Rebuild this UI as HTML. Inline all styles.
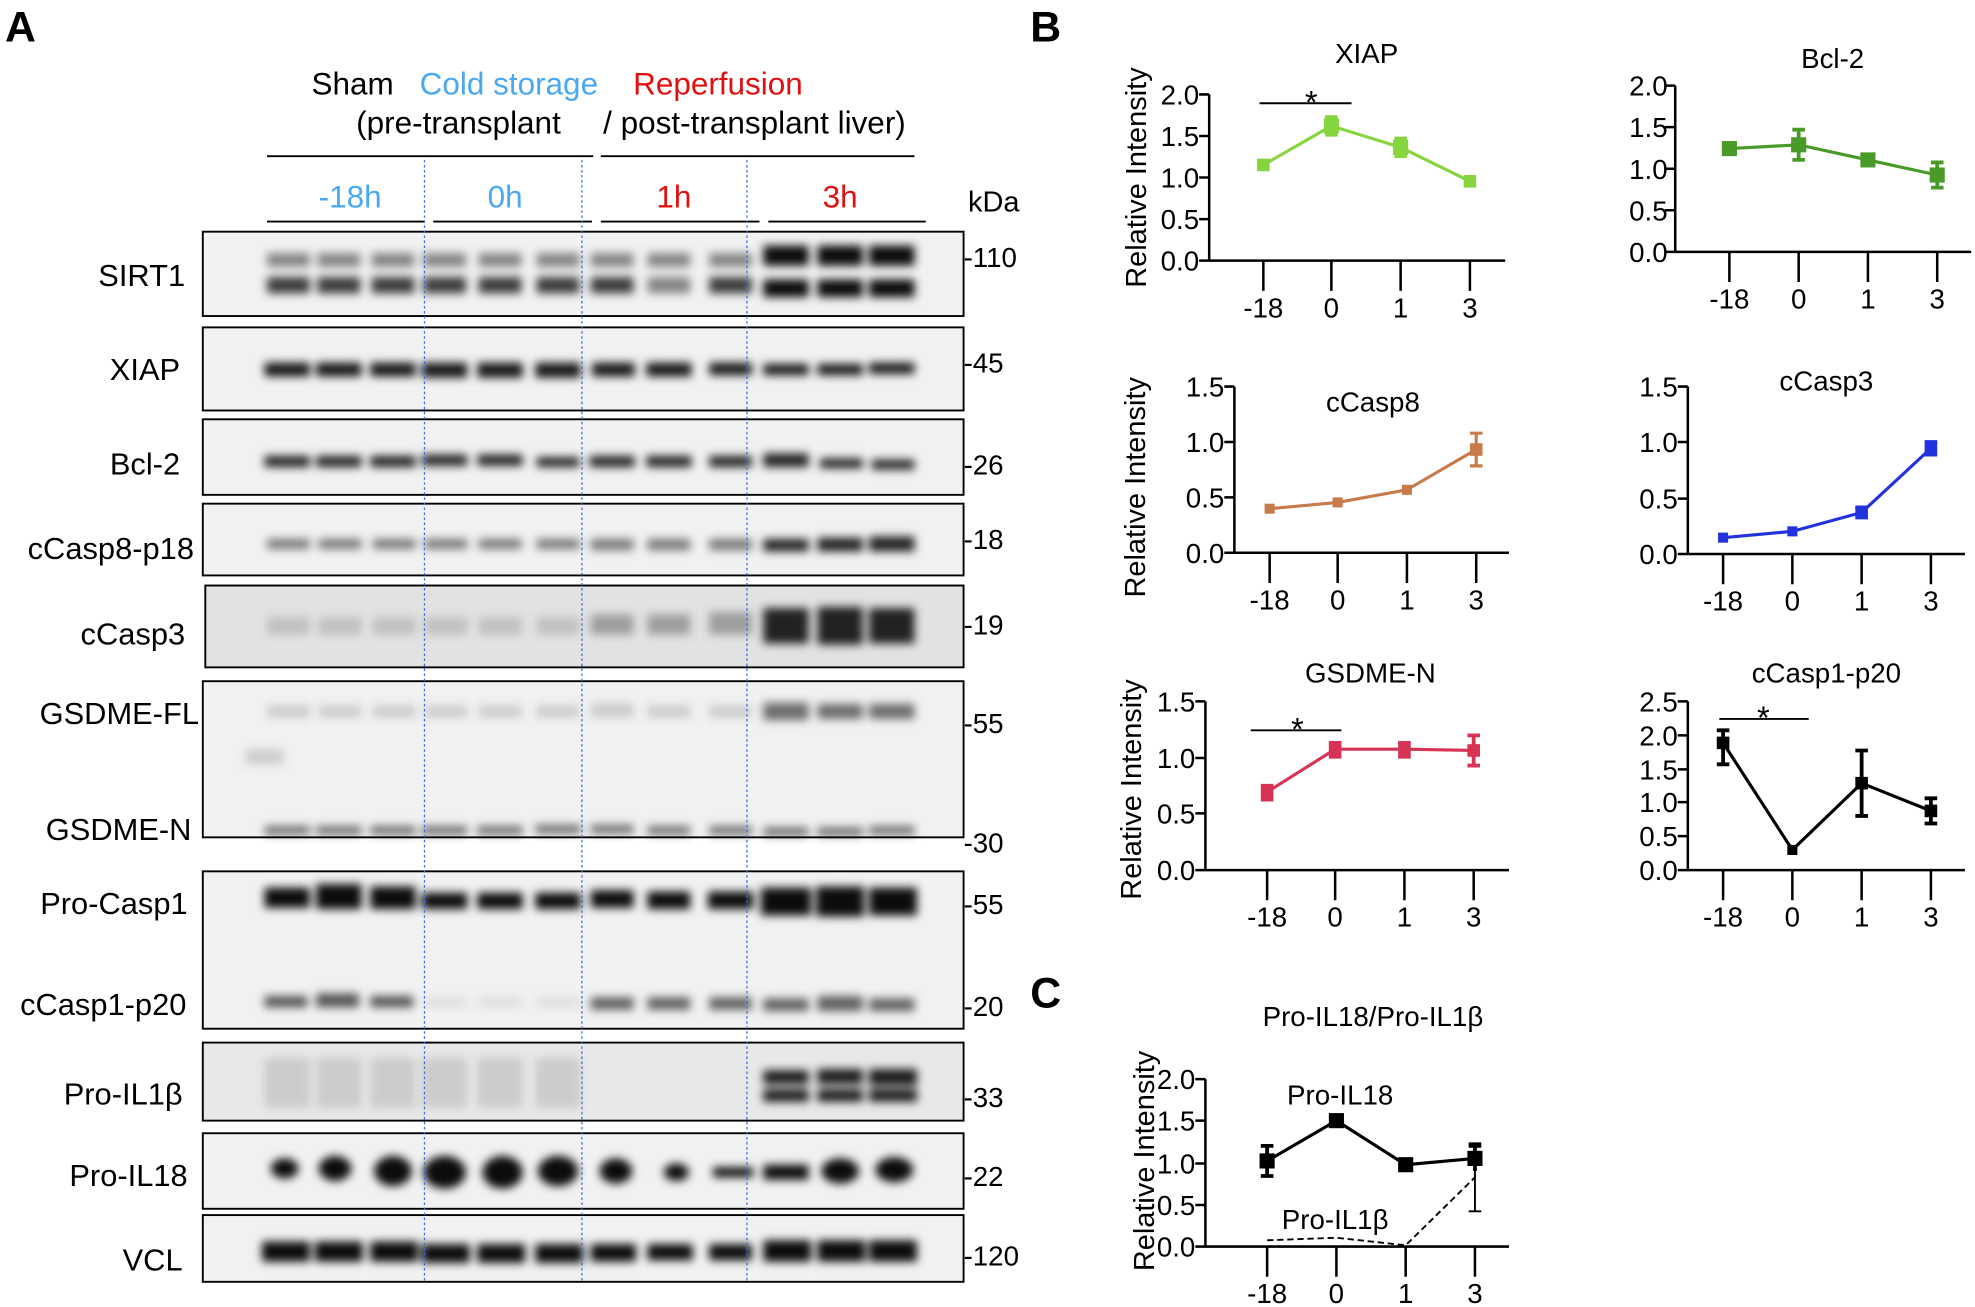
<!DOCTYPE html>
<html><head><meta charset="utf-8"><style>
html,body{margin:0;padding:0;background:#fff;}
svg{display:block;}
text{font-family:"Liberation Sans",Arial,sans-serif;}
</style></head><body>
<svg width="1975" height="1307" viewBox="0 0 1568 1038" preserveAspectRatio="none" xmlns="http://www.w3.org/2000/svg">
<defs>
<filter id="b" x="-50%" y="-100%" width="200%" height="300%"><feGaussianBlur stdDeviation="3.5"/></filter>
</defs>
<text x="4" y="33" font-size="34" font-weight="bold">A</text>
<text x="818" y="33" font-size="34" font-weight="bold">B</text>
<text x="818" y="800" font-size="34" font-weight="bold">C</text>

<g font-size="25" text-anchor="middle">
<text x="280" y="75">Sham</text>
<text x="404" y="75" fill="#4aa8f0">Cold storage</text>
<text x="570" y="75" fill="#e01010">Reperfusion</text>
<text x="364" y="106">(pre-transplant</text>
<text x="599" y="106">/ post-transplant liver)</text>
<text x="278" y="165" fill="#4aa8f0">-18h</text>
<text x="401" y="165" fill="#4aa8f0">0h</text>
<text x="535" y="165" fill="#e01010">1h</text>
<text x="667" y="165" fill="#e01010">3h</text>
<text x="789" y="168" font-size="23">kDa</text>
</g>
<g stroke="#000" stroke-width="1.5">
<line x1="212" y1="124" x2="471" y2="124"/><line x1="477" y1="124" x2="726" y2="124"/>
<line x1="212" y1="176" x2="337" y2="176"/><line x1="344" y1="176" x2="470" y2="176"/>
<line x1="477" y1="176" x2="603" y2="176"/><line x1="610" y1="176" x2="735" y2="176"/>
</g>

<g fill="#f1f1f1" stroke="#000" stroke-width="1.5">
<rect x="161" y="184" width="604" height="67"/>
<rect x="161" y="260" width="604" height="66"/>
<rect x="161" y="333" width="604" height="60"/>
<rect x="161" y="400" width="604" height="57"/>
<rect x="163" y="465" width="602" height="65" fill="#e2e2e2"/>
<rect x="161" y="541" width="604" height="124"/>
<rect x="161" y="692" width="604" height="125"/>
<rect x="161" y="828" width="604" height="62" fill="#e8e8e8"/>
<rect x="161" y="900" width="604" height="60"/>
<rect x="161" y="965" width="604" height="53"/>
</g>

<g fill="#000" filter="url(#b)">
<g opacity="0.45"><rect x="212" y="201" width="34" height="11"/><rect x="252" y="201" width="34" height="11"/><rect x="295" y="201" width="34" height="11"/><rect x="336" y="201" width="34" height="11"/><rect x="380" y="201" width="34" height="11"/><rect x="426" y="201" width="34" height="11"/><rect x="469" y="201" width="34" height="11"/><rect x="514" y="201" width="34" height="11"/><rect x="563" y="201" width="34" height="11"/></g>
<g opacity="0.75"><rect x="212" y="220" width="34" height="13"/><rect x="252" y="220" width="34" height="13"/><rect x="295" y="220" width="34" height="13"/><rect x="336" y="220" width="34" height="13"/><rect x="380" y="220" width="34" height="13"/><rect x="426" y="220" width="34" height="13"/><rect x="469" y="220" width="34" height="13"/><rect x="514" y="220" width="34" height="13" opacity="0.6"/><rect x="563" y="220" width="34" height="13"/></g>
<g opacity="0.95"><rect x="606" y="195" width="36" height="16"/><rect x="649" y="195" width="36" height="16"/><rect x="690" y="195" width="36" height="16"/><rect x="606" y="222" width="36" height="14"/><rect x="649" y="222" width="36" height="14"/><rect x="690" y="222" width="36" height="14"/></g>
<g opacity="0.9"><rect x="210" y="288" width="36" height="11"/><rect x="251" y="288" width="36" height="11"/><rect x="294" y="288" width="36" height="11"/><rect x="335" y="288" width="36" height="12"/><rect x="379" y="288" width="36" height="12"/><rect x="425" y="288" width="36" height="12"/><rect x="470" y="288" width="34" height="11"/><rect x="513" y="288" width="36" height="11"/><rect x="563" y="288" width="34" height="10"/><rect x="606" y="289" width="36" height="9"/><rect x="649" y="289" width="36" height="9"/><rect x="690" y="288" width="36" height="9"/></g>
<g opacity="0.85"><rect x="210" y="362" width="36" height="9"/><rect x="251" y="362" width="36" height="9"/><rect x="294" y="362" width="36" height="9"/><rect x="335" y="361" width="36" height="9"/><rect x="379" y="361" width="36" height="9"/><rect x="426" y="363" width="34" height="8"/><rect x="468" y="362" width="36" height="9"/><rect x="513" y="362" width="36" height="9"/><rect x="563" y="362" width="34" height="9"/><rect x="606" y="360" width="36" height="11"/><rect x="651" y="364" width="34" height="8"/><rect x="692" y="365" width="34" height="8"/></g>
<g opacity="0.5"><rect x="212" y="428" width="34" height="8"/><rect x="253" y="428" width="34" height="8"/><rect x="296" y="428" width="34" height="8"/><rect x="337" y="428" width="34" height="8"/><rect x="380" y="428" width="34" height="8"/><rect x="426" y="428" width="34" height="8"/><rect x="469" y="428" width="34" height="9"/><rect x="514" y="428" width="34" height="9"/><rect x="563" y="428" width="34" height="9"/></g>
<g opacity="0.85"><rect x="606" y="428" width="36" height="10"/><rect x="649" y="427" width="36" height="11"/><rect x="690" y="426" width="36" height="12"/></g>
<g opacity="0.15"><rect x="212" y="490" width="34" height="14"/><rect x="253" y="490" width="34" height="14"/><rect x="296" y="490" width="34" height="14"/><rect x="337" y="490" width="34" height="14"/><rect x="380" y="490" width="34" height="14"/><rect x="426" y="490" width="34" height="14"/></g>
<g opacity="0.3"><rect x="469" y="488" width="34" height="16"/><rect x="514" y="488" width="34" height="16"/><rect x="563" y="486" width="34" height="18"/></g>
<g opacity="0.85"><rect x="606" y="483" width="36" height="28"/><rect x="649" y="482" width="36" height="30"/><rect x="690" y="483" width="36" height="28"/></g>
<g opacity="0.15"><rect x="212" y="560" width="34" height="10"/><rect x="253" y="560" width="34" height="10"/><rect x="296" y="560" width="34" height="10"/><rect x="337" y="560" width="34" height="10"/><rect x="380" y="560" width="34" height="10"/><rect x="426" y="560" width="34" height="10"/><rect x="469" y="558" width="34" height="12"/><rect x="514" y="560" width="34" height="10"/><rect x="563" y="560" width="34" height="10"/><rect x="195" y="595" width="30" height="12"/></g>
<g opacity="0.55"><rect x="606" y="558" width="36" height="14"/><rect x="649" y="559" width="36" height="12"/><rect x="690" y="559" width="36" height="12"/></g>
<g opacity="0.55"><rect x="210" y="656" width="36" height="7"/><rect x="251" y="656" width="36" height="7"/><rect x="294" y="656" width="36" height="7"/><rect x="335" y="656" width="36" height="7"/><rect x="379" y="656" width="36" height="7"/><rect x="425" y="655" width="36" height="7"/><rect x="469" y="655" width="34" height="7"/><rect x="514" y="656" width="34" height="7"/><rect x="563" y="656" width="34" height="7"/><rect x="606" y="657" width="36" height="7"/><rect x="649" y="657" width="36" height="7"/><rect x="690" y="656" width="36" height="7"/></g>
<g opacity="0.95"><rect x="210" y="705" width="36" height="16"/><rect x="251" y="702" width="36" height="20"/><rect x="294" y="704" width="36" height="18"/><rect x="335" y="709" width="36" height="13"/><rect x="379" y="709" width="36" height="13"/><rect x="425" y="709" width="36" height="13"/><rect x="469" y="707" width="34" height="14"/><rect x="514" y="708" width="34" height="14"/><rect x="562" y="708" width="36" height="14"/><rect x="604" y="705" width="40" height="22"/><rect x="648" y="704" width="38" height="24"/><rect x="690" y="705" width="38" height="22"/></g>
<g opacity="0.65"><rect x="210" y="791" width="34" height="9"/><rect x="251" y="789" width="34" height="11"/><rect x="294" y="791" width="34" height="9"/></g>
<g opacity="0.08"><rect x="337" y="792" width="34" height="8"/><rect x="380" y="792" width="34" height="8"/><rect x="426" y="792" width="34" height="8"/></g>
<g opacity="0.6"><rect x="469" y="792" width="34" height="10"/><rect x="514" y="792" width="34" height="10"/><rect x="563" y="792" width="34" height="10"/><rect x="606" y="793" width="36" height="10"/><rect x="649" y="791" width="36" height="12"/><rect x="690" y="793" width="36" height="10"/></g>
<g opacity="0.12"><rect x="210" y="840" width="36" height="40"/><rect x="251" y="840" width="36" height="40"/><rect x="294" y="840" width="36" height="40"/><rect x="335" y="840" width="36" height="40"/><rect x="379" y="840" width="36" height="40"/><rect x="425" y="840" width="36" height="40"/></g>
<g opacity="0.88"><rect x="606" y="850" width="36" height="11"/><rect x="649" y="849" width="36" height="12"/><rect x="690" y="849" width="38" height="13"/><rect x="606" y="865" width="36" height="10"/><rect x="649" y="865" width="36" height="10"/><rect x="690" y="865" width="38" height="10"/></g>
<g opacity="0.95"><ellipse cx="226" cy="928" rx="11" ry="8"/><ellipse cx="266" cy="928" rx="13" ry="10"/><ellipse cx="312" cy="930" rx="15" ry="12"/><ellipse cx="353" cy="931" rx="17" ry="13"/><ellipse cx="399" cy="931" rx="16" ry="13"/><ellipse cx="443" cy="930" rx="16" ry="12"/><ellipse cx="489" cy="930" rx="13" ry="10"/><ellipse cx="537" cy="931" rx="10" ry="7"/><rect x="566" y="927" width="32" height="8"/><rect x="606" y="925" width="36" height="12"/><ellipse cx="667" cy="930" rx="15" ry="10"/><ellipse cx="710" cy="929" rx="15" ry="10"/></g>
<g opacity="0.95"><rect x="208" y="986" width="38" height="16"/><rect x="250" y="986" width="38" height="16"/><rect x="294" y="986" width="38" height="16"/><rect x="335" y="988" width="38" height="15"/><rect x="379" y="988" width="38" height="15"/><rect x="425" y="988" width="38" height="15"/><rect x="469" y="988" width="36" height="14"/><rect x="514" y="988" width="36" height="13"/><rect x="563" y="988" width="34" height="13"/><rect x="606" y="985" width="38" height="17"/><rect x="649" y="985" width="38" height="17"/><rect x="690" y="985" width="38" height="17"/></g>
</g>

<g stroke="#3a6fd8" stroke-width="1" stroke-dasharray="2,2">
<line x1="337" y1="127" x2="337" y2="1018"/><line x1="462" y1="127" x2="462" y2="1018"/><line x1="593" y1="127" x2="593" y2="1018"/>
</g>

<g font-size="24.5" text-anchor="end">
<text x="147" y="227">SIRT1</text>
<text x="143" y="302">XIAP</text>
<text x="143" y="377">Bcl-2</text>
<text x="154" y="444">cCasp8-p18</text>
<text x="147" y="512">cCasp3</text>
<text x="158" y="575">GSDME-FL</text>
<text x="152" y="667">GSDME-N</text>
<text x="149" y="726">Pro-Casp1</text>
<text x="148" y="806">cCasp1-p20</text>
<text x="145" y="877">Pro-IL1β</text>
<text x="149" y="942">Pro-IL18</text>
<text x="145" y="1009">VCL</text>
</g>
<g font-size="22">
<text x="765" y="212">-110</text>
<text x="765" y="296">-45</text>
<text x="765" y="377">-26</text>
<text x="765" y="436">-18</text>
<text x="765" y="504">-19</text>
<text x="765" y="582">-55</text>
<text x="765" y="677">-30</text>
<text x="765" y="726">-55</text>
<text x="765" y="807">-20</text>
<text x="765" y="879">-33</text>
<text x="765" y="942">-22</text>
<text x="765" y="1005">-120</text>
</g>

<g font-size="22">
<g>
<text x="1085" y="50" text-anchor="middle">XIAP</text>
<text transform="translate(910,141) rotate(-90)" text-anchor="middle" font-size="23">Relative Intensity</text>
<g stroke="#000" stroke-width="2" fill="none"><path d="M960 75V207H1195M952 75H960M952 108H960M952 141H960M952 174H960M952 207H960M1003 207V231M1057 207V231M1112 207V231M1167 207V231"/><line x1="1000" y1="82" x2="1073" y2="82" stroke-width="1.5"/></g>
<g text-anchor="end"><text x="952" y="83">2.0</text><text x="952" y="116">1.5</text><text x="952" y="149">1.0</text><text x="952" y="182">0.5</text><text x="952" y="215">0.0</text></g>
<g text-anchor="middle"><text x="1003" y="252">-18</text><text x="1057" y="252">0</text><text x="1112" y="252">1</text><text x="1167" y="252">3</text></g>
<text x="1041" y="90" text-anchor="middle" font-size="26">*</text>
<g stroke="#86d43e" stroke-width="2.5" fill="#86d43e"><polyline points="1003,131 1057,100 1112,117 1167,144" fill="none"/><path d="M1052 93H1062M1057 93V107M1052 107H1062M1107 110H1117M1112 110V124M1107 124H1117" fill="none" stroke-width="3"/><rect x="998" y="126" width="10" height="10" stroke="none"/><rect x="1051" y="94" width="12" height="12" stroke="none"/><rect x="1106" y="111" width="12" height="12" stroke="none"/><rect x="1162" y="139" width="10" height="10" stroke="none"/></g>
</g>
<g>
<text x="1455" y="54" text-anchor="middle">Bcl-2</text>
<g stroke="#000" stroke-width="2" fill="none"><path d="M1330 68V200H1565M1322 68H1330M1322 101H1330M1322 134H1330M1322 167H1330M1322 200H1330M1373 200V224M1428 200V224M1483 200V224M1538 200V224"/></g>
<g text-anchor="end"><text x="1324" y="76">2.0</text><text x="1324" y="109">1.5</text><text x="1324" y="142">1.0</text><text x="1324" y="175">0.5</text><text x="1324" y="208">0.0</text></g>
<g text-anchor="middle"><text x="1373" y="245">-18</text><text x="1428" y="245">0</text><text x="1483" y="245">1</text><text x="1538" y="245">3</text></g>
<g stroke="#4a9a2a" stroke-width="2.5" fill="#4a9a2a"><polyline points="1373,118 1428,115 1483,127 1538,139" fill="none"/><path d="M1423 103H1433M1428 103V127M1423 127H1433M1533 129H1543M1533 149H1543M1538 129V149" fill="none" stroke-width="3"/><rect x="1367" y="112" width="12" height="12" stroke="none"/><rect x="1422" y="109" width="12" height="12" stroke="none"/><rect x="1477" y="121" width="12" height="12" stroke="none"/><rect x="1532" y="133" width="12" height="12" stroke="none"/></g>
</g>
<g>
<text x="1090" y="327" text-anchor="middle">cCasp8</text>
<text transform="translate(909,387) rotate(-90)" text-anchor="middle" font-size="23">Relative Intensity</text>
<g stroke="#000" stroke-width="2" fill="none"><path d="M980 307V439H1198M972 307H980M972 351H980M972 395H980M972 439H980M1008 439V463M1062 439V463M1117 439V463M1172 439V463"/></g>
<g text-anchor="end"><text x="972" y="315">1.5</text><text x="972" y="359">1.0</text><text x="972" y="403">0.5</text><text x="972" y="447">0.0</text></g>
<g text-anchor="middle"><text x="1008" y="484">-18</text><text x="1062" y="484">0</text><text x="1117" y="484">1</text><text x="1172" y="484">3</text></g>
<g stroke="#c87a4a" stroke-width="2.5" fill="#c87a4a"><polyline points="1008,404 1062,399 1117,389 1172,357" fill="none"/><path d="M1167 344H1177M1172 344V370M1167 370H1177" fill="none"/><rect x="1004" y="400" width="8" height="8" stroke="none"/><rect x="1058" y="395" width="8" height="8" stroke="none"/><rect x="1113" y="385" width="8" height="8" stroke="none"/><rect x="1167" y="352" width="10" height="10" stroke="none"/></g>
</g>
<g>
<text x="1450" y="310" text-anchor="middle">cCasp3</text>
<g stroke="#000" stroke-width="2" fill="none"><path d="M1340 307V440H1560M1332 307H1340M1332 351H1340M1332 396H1340M1332 440H1340M1368 440V464M1423 440V464M1478 440V464M1533 440V464"/></g>
<g text-anchor="end"><text x="1332" y="315">1.5</text><text x="1332" y="359">1.0</text><text x="1332" y="404">0.5</text><text x="1332" y="448">0.0</text></g>
<g text-anchor="middle"><text x="1368" y="485">-18</text><text x="1423" y="485">0</text><text x="1478" y="485">1</text><text x="1533" y="485">3</text></g>
<g stroke="#2233dd" stroke-width="2.5" fill="#2233dd"><polyline points="1368,427 1423,422 1478,407 1533,356" fill="none"/><path d="M1473 403H1483M1473 411H1483M1528 351H1538M1528 361H1538M1533 351V361" fill="none" stroke-width="3"/><rect x="1364" y="423" width="8" height="8" stroke="none"/><rect x="1419" y="418" width="8" height="8" stroke="none"/><rect x="1473" y="402" width="10" height="10" stroke="none"/><rect x="1528" y="351" width="10" height="10" stroke="none"/></g>
</g>
<g>
<text x="1088" y="542" text-anchor="middle">GSDME-N</text>
<text transform="translate(906,627) rotate(-90)" text-anchor="middle" font-size="23">Relative Intensity</text>
<g stroke="#000" stroke-width="2" fill="none"><path d="M957 557V691H1198M949 557H957M949 602H957M949 646H957M949 691H957M1006 691V715M1060 691V715M1115 691V715M1170 691V715"/><line x1="993" y1="580" x2="1065" y2="580" stroke-width="1.5"/></g>
<g text-anchor="end"><text x="949" y="565">1.5</text><text x="949" y="610">1.0</text><text x="949" y="654">0.5</text><text x="949" y="699">0.0</text></g>
<g text-anchor="middle"><text x="1006" y="736">-18</text><text x="1060" y="736">0</text><text x="1115" y="736">1</text><text x="1170" y="736">3</text></g>
<text x="1030" y="588" text-anchor="middle" font-size="26">*</text>
<g stroke="#d63355" stroke-width="2.5" fill="#d63355"><polyline points="1006,629 1060,595 1115,595 1170,596" fill="none"/><path d="M1001 624H1011M1001 635H1011M1055 590H1065M1055 601H1065M1110 590H1120M1110 601H1120M1115 590V601M1165 584H1175M1170 584V608M1165 608H1175" fill="none" stroke-width="3"/><rect x="1001" y="624" width="10" height="10" stroke="none"/><rect x="1055" y="590" width="10" height="10" stroke="none"/><rect x="1110" y="590" width="10" height="10" stroke="none"/><rect x="1165" y="591" width="10" height="10" stroke="none"/></g>
</g>
<g>
<text x="1450" y="542" text-anchor="middle">cCasp1-p20</text>
<g stroke="#000" stroke-width="2" fill="none"><path d="M1340 557V691H1560M1332 557H1340M1332 584H1340M1332 611H1340M1332 637H1340M1332 664H1340M1332 691H1340M1368 691V715M1423 691V715M1478 691V715M1533 691V715"/><line x1="1365" y1="571" x2="1436" y2="571" stroke-width="1.5"/></g>
<g text-anchor="end"><text x="1332" y="565">2.5</text><text x="1332" y="592">2.0</text><text x="1332" y="619">1.5</text><text x="1332" y="645">1.0</text><text x="1332" y="672">0.5</text><text x="1332" y="699">0.0</text></g>
<g text-anchor="middle"><text x="1368" y="736">-18</text><text x="1423" y="736">0</text><text x="1478" y="736">1</text><text x="1533" y="736">3</text></g>
<text x="1400" y="579" text-anchor="middle" font-size="26">*</text>
<g stroke="#000" stroke-width="2.5" fill="#000"><polyline points="1368,590 1423,675 1478,622 1533,644" fill="none"/><path d="M1363 580H1373M1368 580V607M1363 607H1373M1473 596H1483M1478 596V648M1473 648H1483M1528 634H1538M1533 634V654M1528 654H1538" fill="none" stroke-width="3"/><rect x="1363" y="585" width="10" height="10" stroke="none"/><rect x="1419" y="671" width="8" height="8" stroke="none"/><rect x="1473" y="617" width="10" height="10" stroke="none"/><rect x="1528" y="639" width="10" height="10" stroke="none"/></g>
</g>
<g>
<text x="1090" y="815" text-anchor="middle">Pro-IL18/Pro-IL1β</text>
<text transform="translate(916,922) rotate(-90)" text-anchor="middle" font-size="23">Relative Intensity</text>
<g stroke="#000" stroke-width="2" fill="none"><path d="M957 857V990H1198M949 857H957M949 890H957M949 924H957M949 957H957M949 990H957M1006 990V1014M1061 990V1014M1116 990V1014M1171 990V1014"/></g>
<g text-anchor="end"><text x="949" y="865">2.0</text><text x="949" y="898">1.5</text><text x="949" y="932">1.0</text><text x="949" y="965">0.5</text><text x="949" y="998">0.0</text></g>
<g text-anchor="middle"><text x="1006" y="1035">-18</text><text x="1061" y="1035">0</text><text x="1116" y="1035">1</text><text x="1171" y="1035">3</text></g>
<text x="1064" y="877" text-anchor="middle">Pro-IL18</text>
<text x="1060" y="976" text-anchor="middle">Pro-IL1β</text>
<g stroke="#000" stroke-width="2.5" fill="#000"><polyline points="1006,922 1061,890 1116,925 1171,920" fill="none"/><path d="M1001 910H1011M1006 910V934M1001 934H1011M1166 910H1176M1171 910V930" fill="none" stroke-width="3"/><rect x="1000" y="916" width="12" height="12" stroke="none"/><rect x="1055" y="884" width="12" height="12" stroke="none"/><rect x="1110" y="919" width="12" height="12" stroke="none"/><rect x="1165" y="914" width="12" height="12" stroke="none"/></g>
<g stroke="#000" stroke-width="1.5" fill="none" stroke-dasharray="5,3"><polyline points="1006,985 1061,983 1116,989 1171,935"/></g>
<g stroke="#000" stroke-width="1.5"><path d="M1166 908H1176M1171 908V962M1166 962H1176"/></g>
</g>
</g>
</svg>
</body></html>
